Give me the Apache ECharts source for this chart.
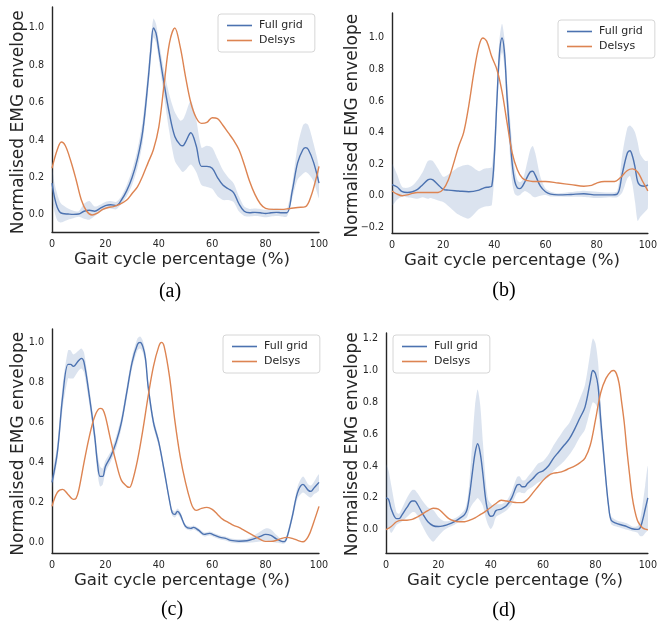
<!DOCTYPE html>
<html>
<head>
<meta charset="utf-8">
<style>
html,body{margin:0;padding:0;background:#fff;}
#chart{width:660px;height:622px;}
</style>
<script src="https://cdn.jsdelivr.net/npm/echarts@6/dist/echarts.min.js"></script>
</head>
<body>
<div id="chart"></div>
<script>
// ---------- DATA ----------
const xTicks = [0, 20, 40, 60, 80, 100];

// (a)
const a_yticks = [0.0, 0.2, 0.4, 0.6, 0.8, 1.0];
const a_full_x = [0,1,2,3,4,6,8,10,12,14,16,18,20,22,24,26,28,30,32,34,36,37,38,39,40,42,44,46,48,49,50,52,54,56,58,60,62,64,66,68,70,72,74,76,78,80,82,84,86,88,90,92,94,95,96,98,100];
const a_full   = [0.17,0.09,0.04,0.015,0.008,0.005,0.003,0.005,0.02,0.025,0.02,0.035,0.05,0.055,0.05,0.08,0.13,0.2,0.3,0.45,0.72,0.88,1.0,0.97,0.88,0.70,0.54,0.42,0.375,0.37,0.39,0.44,0.37,0.26,0.26,0.25,0.2,0.16,0.14,0.12,0.06,0.02,0.012,0.014,0.012,0.008,0.012,0.014,0.012,0.012,0.13,0.28,0.35,0.36,0.35,0.28,0.17];
const a_full_sd = [0.08,0.075,0.07,0.055,0.045,0.03,0.02,0.015,0.04,0.05,0.025,0.02,0.02,0.02,0.02,0.02,0.03,0.04,0.05,0.06,0.06,0.06,0.05,0.05,0.05,0.07,0.1,0.13,0.13,0.14,0.15,0.17,0.14,0.1,0.11,0.11,0.1,0.08,0.06,0.05,0.04,0.025,0.02,0.02,0.02,0.02,0.02,0.02,0.02,0.02,0.04,0.09,0.13,0.13,0.13,0.1,0.08];
const a_del_x = [0,2,3.5,5,7,9,11,13,15,17,19,21,23,25,28,30,32,34,36,38,40,42,44,46,48,50,52,54,56,58,60,62,64,66,68,70,72,74,76,78,80,83,86,89,92,95,97,99,100];
const a_del   = [0.25,0.35,0.39,0.37,0.29,0.19,0.08,0.02,0.0,0.01,0.03,0.04,0.045,0.055,0.08,0.115,0.15,0.21,0.28,0.35,0.47,0.7,0.92,1.0,0.9,0.74,0.6,0.52,0.49,0.495,0.52,0.515,0.48,0.44,0.4,0.35,0.27,0.18,0.11,0.06,0.035,0.03,0.03,0.035,0.04,0.045,0.1,0.2,0.26];

// (b)
const b_yticks = [-0.2, 0.0, 0.2, 0.4, 0.6, 0.8, 1.0];
const b_full_x = [0,2,4,6,8,10,12,14,15,16,18,20,22,26,30,34,36,38,39,40,41,42,43,44,45,46,47,48,49,50,51,52,54,55,56,58,60,62,65,70,75,80,85,88,90,92,93,94,95,96,97,99,100];
const b_full   = [0.07,0.055,0.025,0.02,0.025,0.04,0.07,0.1,0.105,0.1,0.07,0.04,0.035,0.03,0.025,0.035,0.05,0.055,0.06,0.25,0.6,0.9,1.0,0.9,0.62,0.4,0.2,0.09,0.05,0.045,0.06,0.09,0.15,0.155,0.13,0.06,0.025,0.01,0.005,0.008,0.012,0.005,0.005,0.01,0.14,0.27,0.285,0.25,0.18,0.09,0.065,0.06,0.07];
const b_full_sd = [0.13,0.08,0.03,0.03,0.04,0.06,0.08,0.12,0.12,0.12,0.1,0.08,0.1,0.15,0.17,0.12,0.12,0.12,0.12,0.12,0.1,0.09,0.09,0.09,0.1,0.12,0.12,0.08,0.05,0.04,0.04,0.06,0.14,0.16,0.14,0.06,0.02,0.015,0.01,0.015,0.02,0.02,0.015,0.02,0.12,0.16,0.16,0.18,0.22,0.25,0.2,0.16,0.15];
const b_del_x = [0,2,4,6,8,10,14,18,20,22,24,26,28,30,32,34,35.5,37,39,41,43,45,47,49,51,53,55,60,65,70,75,78,80,83,87,89,92,94,96,98,100];
const b_del   = [0.03,0.01,0.0,0.005,0.015,0.02,0.02,0.02,0.04,0.1,0.2,0.31,0.4,0.57,0.78,0.95,1.0,0.98,0.88,0.8,0.66,0.46,0.27,0.165,0.11,0.095,0.09,0.09,0.08,0.07,0.06,0.065,0.08,0.09,0.09,0.11,0.16,0.17,0.15,0.09,0.03];

// (c)
const c_yticks = [0.0, 0.2, 0.4, 0.6, 0.8, 1.0];
const c_full_x = [0,2,4,6,7,8,10,11,12,14,16,17,18,19,20,22,24,26,28,30,32,33,34,35,36,38,40,42,44,45,46,47,48,50,52,53,55,57,59,61,63,65,67,70,73,75,78,80,82,84,86,87,88,90,92,94,96,97,98,100];
const c_full   = [0.3,0.45,0.73,0.89,0.89,0.88,0.91,0.92,0.9,0.73,0.53,0.4,0.33,0.33,0.38,0.43,0.5,0.6,0.75,0.9,0.99,1.0,0.98,0.92,0.78,0.6,0.5,0.36,0.21,0.15,0.14,0.155,0.14,0.08,0.07,0.075,0.06,0.04,0.045,0.035,0.025,0.02,0.01,0.006,0.008,0.015,0.03,0.04,0.035,0.018,0.005,0.004,0.025,0.13,0.25,0.29,0.26,0.255,0.27,0.3];
const c_full_sd = [0.03,0.04,0.06,0.07,0.07,0.06,0.05,0.05,0.05,0.04,0.04,0.05,0.05,0.04,0.03,0.025,0.03,0.03,0.03,0.03,0.03,0.03,0.03,0.03,0.03,0.025,0.02,0.02,0.015,0.015,0.015,0.015,0.015,0.01,0.01,0.01,0.01,0.01,0.01,0.01,0.01,0.01,0.01,0.01,0.01,0.015,0.025,0.03,0.03,0.02,0.01,0.01,0.015,0.02,0.03,0.04,0.03,0.03,0.03,0.04];
const c_del_x = [0,2,4,6,8,9,10,12,14,16,18,19,20,22,24,26,28,29,30,32,34,36,38,40,41,42,44,46,48,50,52,53,54,56,58,60,62,64,66,68,70,72,74,76,78,80,82,84,86,88,90,92,94,96,98,100];
const c_del   = [0.18,0.25,0.265,0.24,0.215,0.22,0.26,0.4,0.53,0.63,0.67,0.665,0.63,0.51,0.4,0.31,0.28,0.275,0.3,0.41,0.56,0.73,0.88,0.98,1.0,0.98,0.83,0.61,0.43,0.3,0.2,0.17,0.16,0.17,0.175,0.165,0.14,0.115,0.1,0.085,0.075,0.06,0.045,0.03,0.015,0.005,0.005,0.01,0.02,0.025,0.02,0.01,0.003,0.03,0.1,0.18];

// (d)
const d_yticks = [0.0, 0.2, 0.4, 0.6, 0.8, 1.0, 1.2];
const d_full_x = [0,1,2,4,5,6,8,10,11,12,14,16,18,20,22,24,26,28,30,31,32,33,34,35,36,37,38,39,40,41,42,44,46,48,50,51,52,53,54,56,58,60,62,64,66,68,70,72,74,76,78,79,80,81,82,83,84,85,86,88,90,92,94,96,97,98,99,100];
const d_full   = [0.2,0.19,0.13,0.07,0.07,0.09,0.14,0.18,0.18,0.16,0.1,0.05,0.025,0.02,0.025,0.035,0.05,0.07,0.095,0.13,0.23,0.36,0.48,0.54,0.48,0.35,0.2,0.11,0.085,0.09,0.12,0.13,0.15,0.2,0.28,0.285,0.27,0.27,0.29,0.32,0.355,0.37,0.4,0.45,0.49,0.53,0.57,0.63,0.7,0.77,0.93,1.0,0.98,0.9,0.69,0.5,0.31,0.15,0.06,0.04,0.03,0.02,0.006,0.002,0.01,0.06,0.13,0.2];
const d_full_sd = [0.21,0.18,0.15,0.04,0.03,0.04,0.06,0.07,0.07,0.07,0.08,0.09,0.1,0.06,0.03,0.02,0.02,0.02,0.03,0.05,0.1,0.2,0.3,0.34,0.3,0.2,0.12,0.08,0.08,0.06,0.04,0.03,0.03,0.04,0.05,0.05,0.04,0.04,0.04,0.05,0.06,0.06,0.07,0.08,0.09,0.1,0.1,0.11,0.12,0.14,0.18,0.2,0.19,0.15,0.1,0.06,0.04,0.03,0.025,0.02,0.02,0.02,0.015,0.02,0.05,0.1,0.15,0.2];
const d_del_x = [0,2,4,6,8,10,12,14,16,18,20,22,24,26,28,30,32,34,36,38,40,42,44,46,48,50,52,54,56,58,60,62,64,66,68,70,72,74,76,78,80,82,84,86,87,88,89,90,91,92,93,94,95,96,97,98,99,100];
const d_del   = [0.0,0.02,0.05,0.06,0.06,0.065,0.08,0.1,0.12,0.135,0.13,0.1,0.07,0.055,0.05,0.05,0.06,0.075,0.095,0.115,0.14,0.165,0.185,0.18,0.175,0.17,0.17,0.19,0.23,0.27,0.31,0.34,0.355,0.36,0.37,0.385,0.4,0.42,0.45,0.53,0.69,0.86,0.95,0.995,1.0,0.98,0.92,0.8,0.67,0.5,0.35,0.21,0.12,0.06,0.03,0.012,0.004,0.0];

const seriesNames = ['Full grid', 'Delsys'];
const captions = ['(a)', '(b)', '(c)', '(d)'];
const xTitle = 'Gait cycle percentage (%)';
const yTitle = 'Normalised EMG envelope';

// ---------- LAYOUT / STYLE ----------
const FONT = 'DejaVu Sans';
const INK = '#262626';
const BLUE = '#4c72b0';
const ORANGE = '#dd8452';
const BAND = 'rgba(76,114,176,0.2)';

const panels = [
  {fx:a_full_x, f:a_full, sd:a_full_sd, dx:a_del_x, d:a_del, yt:a_yticks,
   grid:{left:52, top:7, width:267, height:225}, ymin:-0.091, ymax:1.112,
   yT:{x:18.3, y:122.3}, xT:{x:182, y:259.8},
   legend:{left:218, top:14}, cap:{x:170, y:292}},
  {fx:b_full_x, f:b_full, sd:b_full_sd, dx:b_del_x, d:b_del, yt:b_yticks,
   grid:{left:392, top:13, width:261, height:220}, ymin:-0.2365, ymax:1.158,
   yT:{x:352.6, y:125.8}, xT:{x:512, y:261},
   legend:{left:558, top:20}, cap:{x:504, y:291}},
  {fx:c_full_x, f:c_full, sd:c_full_sd, dx:c_del_x, d:c_del, yt:c_yticks,
   grid:{left:52, top:329, width:267, height:224}, ymin:-0.053, ymax:1.067,
   yT:{x:18.3, y:443.8}, xT:{x:182, y:581},
   legend:{left:223, top:335}, cap:{x:172, y:610}},
  {fx:d_full_x, f:d_full, sd:d_full_sd, dx:d_del_x, d:d_del, yt:d_yticks,
   grid:{left:386, top:333, width:267, height:220}, ymin:-0.146, ymax:1.235,
   yT:{x:352.4, y:444.2}, xT:{x:515, y:581},
   legend:{left:393, top:335}, cap:{x:504, y:611}}
];

const fmt = v => (v < 0 ? '\u2212' : '') + Math.abs(v).toFixed(1);
const pairs = (xs, ys) => xs.map((x, i) => [x, ys[i]]);

const option = {
  backgroundColor: '#fff',
  animation: false,
  grid: [], xAxis: [], yAxis: [], series: [], legend: [], graphic: []
};

panels.forEach((p, i) => {
  option.grid.push(Object.assign({containLabel:false}, p.grid));
  option.xAxis.push({
    type:'value', gridIndex:i, min:0, max:100,
    axisLine:{show:true, onZero:false, lineStyle:{color:INK, width:1.4}},
    axisTick:{show:false}, splitLine:{show:false},
    axisLabel:{customValues:xTicks, margin:7, fontSize:9.6, color:INK, fontFamily:FONT}
  });
  option.yAxis.push({
    type:'value', gridIndex:i, min:p.ymin, max:p.ymax,
    axisLine:{show:true, onZero:false, lineStyle:{color:INK, width:1.4}},
    axisTick:{show:false}, splitLine:{show:false},
    axisLabel:{customValues:p.yt, formatter:fmt, margin:8, fontSize:9.6, color:INK, fontFamily:FONT}
  });
  // SD band drawn as one polygon through the axis scales
  option.series.push({
    type:'custom', xAxisIndex:i, yAxisIndex:i, silent:true, z:1, clip:true,
    data: p.fx.map((x, k) => [x, p.f[k] - p.sd[k], p.f[k] + p.sd[k]]),
    encode:{x:0, y:[1, 2]},
    renderItem: (params, api) => {
      if (params.dataIndex !== 0) return null;
      const up = p.fx.map((x, k) => api.coord([x, p.f[k] + p.sd[k]]));
      const lo = p.fx.map((x, k) => api.coord([x, p.f[k] - p.sd[k]])).reverse();
      return {
        type:'group',
        children:[
          {type:'polygon', shape:{points: up.concat(lo), smooth:0.25}, style:{fill:BAND, stroke:null}}
        ]
      };
    }
  });
  option.series.push({
    name:seriesNames[0], type:'line', xAxisIndex:i, yAxisIndex:i,
    data: pairs(p.fx, p.f), smooth:0.35, symbol:'none',
    color:BLUE, lineStyle:{color:BLUE, width:1.4}, z:3
  });
  option.series.push({
    name:seriesNames[1], type:'line', xAxisIndex:i, yAxisIndex:i,
    data: pairs(p.dx, p.d), smooth:0.35, symbol:'none',
    color:ORANGE, lineStyle:{color:ORANGE, width:1.4}, z:4
  });
  option.legend.push({
    data:seriesNames, left:p.legend.left, top:p.legend.top, orient:'vertical',
    selectedMode:false, icon:'rect', itemWidth:25, itemHeight:1.6, itemGap:4,
    padding:[6,12,6,9], borderColor:'#d6d6d6', borderWidth:1, borderRadius:3,
    backgroundColor:'#fff',
    textStyle:{fontSize:11, color:INK, fontFamily:FONT, padding:[0,0,0,2]}
  });
  option.graphic.push({
    type:'text', x:p.yT.x, y:p.yT.y, rotation:Math.PI / 2,
    style:{text:yTitle, fontSize:17, fontFamily:FONT, fill:INK,
           textAlign:'center', textVerticalAlign:'middle'}
  });
  option.graphic.push({
    type:'text', x:p.xT.x, y:p.xT.y,
    style:{text:xTitle, fontSize:16.6, fontFamily:FONT, fill:INK,
           textAlign:'center', textVerticalAlign:'middle'}
  });
  option.graphic.push({
    type:'text', x:p.cap.x, y:p.cap.y,
    style:{text:captions[i], fontSize:20, fontFamily:'Liberation Serif', fill:'#000',
           textAlign:'center', textVerticalAlign:'middle'}
  });
});

const chart = echarts.init(document.getElementById('chart'), null, {renderer:'canvas'});
chart.setOption(option);
</script>
</body>
</html>
